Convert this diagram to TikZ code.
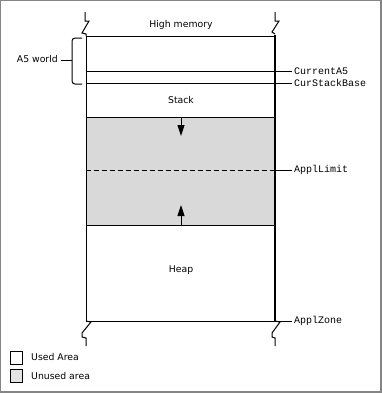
\documentclass[tikz,border=0pt]{standalone}
\usepackage{fontspec}
\setmainfont{DejaVu Sans}
\newfontfamily\monofont{Liberation Mono}
\usetikzlibrary{arrows.meta}
\definecolor{framegray}{HTML}{858585}
\definecolor{unused}{HTML}{D9D9D9}
\definecolor{legendgray}{HTML}{E4E4E4}
\tikzset{
  thinline/.style={line width=1pt, black},
  thickline/.style={line width=2.4pt, black},
  lbl/.style={font=\fontsize{9.3}{10}\selectfont, inner sep=0pt},
  ptr/.style={font=\monofont\fontsize{10}{11}\selectfont, anchor=west, inner sep=0pt},
  legendbox/.style={draw=black, line width=0.9pt, minimum width=12pt, minimum height=13pt, inner sep=0pt},
  growarrow/.style={line width=1pt, -{Triangle[length=11pt,width=7pt]}},
}
\begin{document}
\begin{tikzpicture}[x=1pt,y=-1pt]
\useasboundingbox (0,0) rectangle (382,394);
% frame
\draw[framegray, line width=1pt] (381,0.5) -- (0.5,0.5) -- (0.5,393);
\draw[framegray, line width=2pt] (381,0) -- (381,392) -- (0,392);

% unused area
\fill[unused] (86,117) rectangle (275,225);

% coordinates
\coordinate (TL) at (86,36);
\coordinate (TR) at (275,36);
\coordinate (BL) at (86,321);
\coordinate (BR) at (275,321);

% left and right walls
\draw[thinline] (TL) -- (BL);
\draw[thickline] (275,35) -- (275,322);

% breaks top
\draw[line width=1pt] (85,12) -- (85,21) -- (89,21) -- (82,33) -- (86,34) -- (TL);
\draw[line width=1pt] (275,12) -- (275,21) -- (279,21) -- (272,32) -- (275,34);
% breaks bottom
\draw[line width=1pt] (BL) -- (91,322) -- (82,333) -- (82,337) -- (86,338) -- (86,346);
\draw[line width=1pt] (BR) -- (280,322) -- (272,333) -- (272,337) -- (275,338) -- (275,346);

% horizontal lines
\draw[thinline] (TL) -- (TR);
\node[lbl] (high) at (181,25) {High memory};

\coordinate (a5r) at (292,71);
\coordinate (csr) at (292,83);
\coordinate (alr) at (292,170);
\coordinate (azr) at (292,321);
\draw[thinline] (86,71) -- (a5r);
\draw[thinline] (86,83) -- (csr);
\draw[thinline] (86,117) -- (275,117);
\draw[thinline] (86,225) -- (275,225);
\draw[thinline, dash pattern=on 5pt off 3pt] (86,170) -- (275,170);
\draw[thinline] (275,170) -- (alr);
\draw[thinline] (BL) -- (azr);

\node[ptr] (currenta5) at ([xshift=2pt]a5r) {CurrentA5};
\node[ptr] (curstack) at ([xshift=2pt]csr) {CurStackBase};
\node[ptr] (appllimit) at ([xshift=2pt]alr) {ApplLimit};
\node[ptr] (applzone) at ([xshift=2pt]azr) {ApplZone};

% labels
\node[lbl] (stack) at (181,100) {Stack};
\node[lbl] (heap) at (181,270) {Heap};

% arrows
\coordinate (dtop) at (181,117);
\coordinate (dbot) at (181,136);
\coordinate (ubot) at (181,225);
\coordinate (utop) at (181,205);
\draw[growarrow] (dtop) -- (dbot);
\draw[growarrow] (ubot) -- (utop);

% A5 world bracket
\draw[line width=1pt, rounded corners=3pt] (82,38) -- (72,38) -- (72,84) -- (82,84);
\node[lbl, anchor=east] (a5world) at (58,59) {A5 world};
\draw[line width=1pt] (a5world.east) ++(3,1) coordinate (bl) -- (72,60);

% legend
\node[legendbox, fill=white] (usedbox) at (16,357.5) {};
\node[lbl, anchor=west] (used) at (31,357.5) {Used Area};
\node[legendbox, fill=legendgray] (unusedbox) at (16,376) {};
\node[lbl, anchor=west] (unusedlbl) at (31,376) {Unused area};
\end{tikzpicture}
\end{document}
